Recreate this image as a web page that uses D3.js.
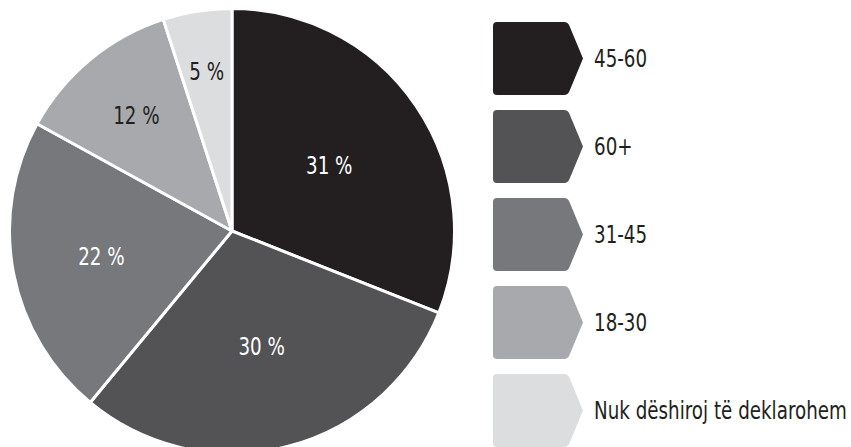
<!DOCTYPE html>
<html>
<head>
<meta charset="utf-8">
<script src="https://cdn.jsdelivr.net/npm/d3@7"></script>
<style>
  html, body { margin: 0; padding: 0; background: #fff; }
  svg text { font-family: "DejaVu Sans Condensed", "DejaVu Sans", sans-serif; font-stretch: condensed; }
</style>
</head>
<body>
<svg id="chart" width="851" height="447"></svg>
<script>
// Age groups, share of respondents (%)
const categories = ["45-60", "60+", "31-45", "18-30", "Nuk dëshiroj të deklarohem"];
const values = [31, 30, 22, 12, 5];
const colors = ["#231f20", "#535254", "#77787b", "#a7a9ac", "#dcdddf"];
const labelColors = ["#ffffff", "#ffffff", "#ffffff", "#231f20", "#231f20"];

const svg = d3.select("#chart");
const cx = 232, cy = 231, R = 222.5;
const fontSize = 24;

// Narrow the type so the longest legend entry fits beside the swatches
const probe = svg.append("text").attr("font-size", fontSize).text(categories[categories.length - 1]);
const sx = Math.min(1, 253 / probe.node().getComputedTextLength());
probe.remove();

const pie = d3.pie().value(d => d.value).sort(null);
const arc = d3.arc().innerRadius(0).outerRadius(R);

const data = categories.map((c, i) => ({ name: c, value: values[i], i }));
const arcs = pie(data);
const total = d3.sum(values);

const g = svg.append("g").attr("transform", `translate(${cx},${cy})`);

g.selectAll("path.slice")
  .data(arcs)
  .join("path")
  .attr("class", "slice")
  .attr("d", arc)
  .attr("fill", d => colors[d.data.i])
  .attr("stroke", "#fff")
  .attr("stroke-width", 3)
  .attr("stroke-linejoin", "round");

// Smaller slices get their label pushed further toward the rim
const labelR = d => R * 0.766 * (1 - d.data.value / total);

g.selectAll("text.pct")
  .data(arcs)
  .join("text")
  .attr("class", "pct")
  .attr("transform", d => {
    const a = (d.startAngle + d.endAngle) / 2;
    const r = labelR(d);
    return `translate(${Math.sin(a) * r},${-Math.cos(a) * r}) scale(${sx},1)`;
  })
  .attr("text-anchor", "middle")
  .attr("dy", "0.36em")
  .attr("font-size", fontSize)
  .attr("fill", d => labelColors[d.data.i])
  .text(d => d.data.value + " %");

// Legend: tag-shaped swatches with labels
const lx = 493, ly0 = 22, lh = 73, step = 88, bodyW = 75, tip = 15, rr = 4;
const tagPath = (h) => {
  const w = bodyW;
  return `M${rr},0 L${w - rr},0 Q${w},0 ${w + 1.5},${rr} L${w + tip},${h / 2} L${w + 1.5},${h - rr} Q${w},${h} ${w - rr},${h} ` +
         `L${rr},${h} Q0,${h} 0,${h - rr} L0,${rr} Q0,0 ${rr},0 Z`;
};

const leg = svg.selectAll("g.leg")
  .data(categories)
  .join("g")
  .attr("class", "leg")
  .attr("transform", (d, i) => `translate(${lx},${ly0 + i * step})`);

leg.append("path")
  .attr("d", tagPath(lh))
  .attr("fill", (d, i) => colors[i]);

leg.append("text")
  .attr("transform", `translate(101,${lh / 2}) scale(${sx},1)`)
  .attr("dy", "0.36em")
  .attr("font-size", fontSize)
  .attr("fill", "#231f20")
  .text(d => d);
</script>
</body>
</html>
